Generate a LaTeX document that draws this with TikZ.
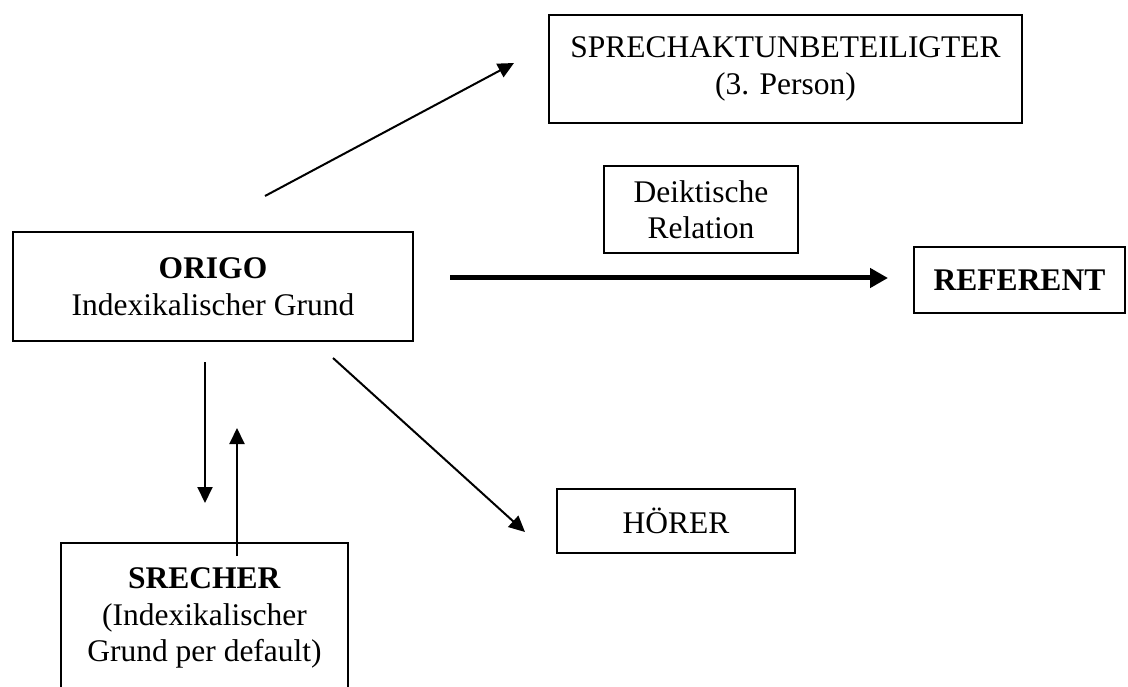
\documentclass[tikz,border=0pt]{standalone}
\usepackage{fontspec}
\setmainfont{Liberation Serif}
\usetikzlibrary{arrows.meta}
\begin{document}
\begin{tikzpicture}[x=1pt,y=-1pt,
 box/.style={draw, line width=2pt, inner sep=0pt, outer sep=0pt, align=center, font=\fontsize{31.5}{36.5}\selectfont},
 arr/.style={line width=2pt, -{Triangle[length=16pt,width=15pt]}},
 thickarr/.style={line width=5pt, -{Triangle[length=18pt,width=19pt]}}]
\useasboundingbox (0,0) rectangle (1128,687);
\clip (0,0) rectangle (1128,687);
\node[box, minimum width=473pt, minimum height=108pt] (spr) at (785.5,69) {SPRECHAKTUNBETEILIGTER\\(3. Person)};
\node[box, minimum width=400pt, minimum height=109pt] (origo) at (213,286.5) {\textbf{ORIGO}\\Indexikalischer Grund};
\node[box, minimum width=194pt, minimum height=87pt] (deik) at (701,209.5) {Deiktische\\Relation};
\node[box, minimum width=211pt, minimum height=66pt] (ref) at (1019.5,280) {\textbf{REFERENT}};
\node[box, minimum width=238pt, minimum height=64pt] (hoer) at (676,521) {HÖRER};
\node[box, minimum width=287pt, minimum height=150pt] (spre) at (204.5,618) {\textbf{SRECHER}\\(Indexikalischer\\Grund per default)};
\coordinate (u1) at (265,196); \coordinate (u2) at (514,63);
\coordinate (t1) at (450,278); \coordinate (t2) at (888,278);
\coordinate (h1) at (333,358); \coordinate (h2) at (525,532);
\coordinate (d1) at (205,362); \coordinate (d2) at (205,503);
\coordinate (s1) at (237,556); \coordinate (s2) at (237,428);
\draw[arr] (u1) -- (u2);
\draw[thickarr] (t1) -- (t2);
\draw[arr] (h1) -- (h2);
\draw[arr] (d1) -- (d2);
\draw[arr] (s1) -- (s2);
\end{tikzpicture}
\end{document}
